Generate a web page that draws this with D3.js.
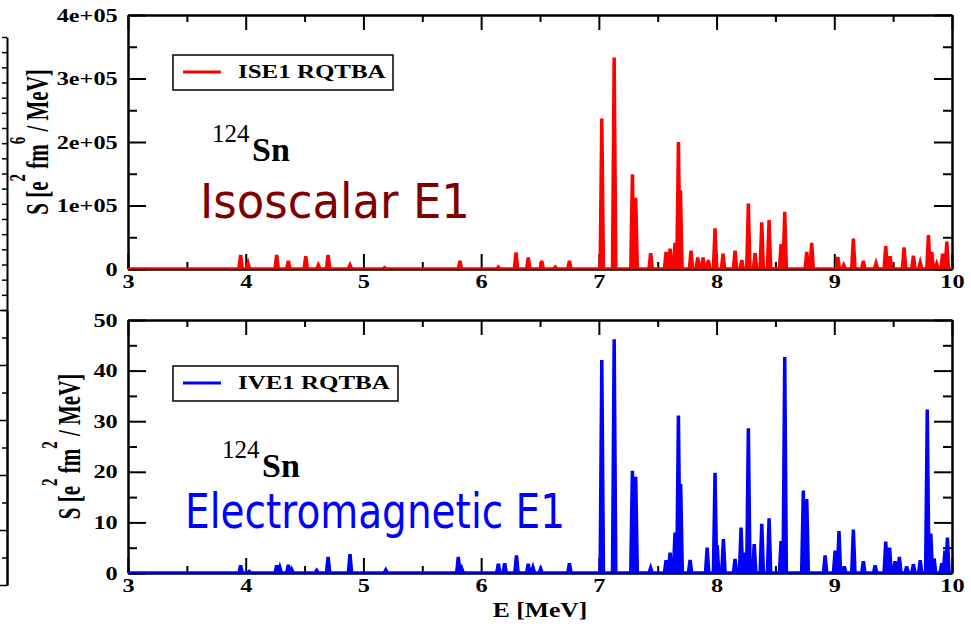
<!DOCTYPE html>
<html>
<head>
<meta charset="utf-8">
<script src="https://cdn.jsdelivr.net/npm/d3@7"></script>
<style>
body { margin: 0; background: #fff; }
svg { display: block; }
.tick text { font-family: "Liberation Serif", "Times New Roman", serif; font-weight: bold; font-size: 19px; fill: #000; }
</style>
</head>
<body>
<svg id="chart" width="971" height="627"></svg>
<script>
// peak positions (MeV) and strengths
const isoE = [3.957, 4.02, 4.263, 4.362, 4.51, 4.617, 4.70, 4.886, 5.18, 5.82, 6.146, 6.296, 6.40, 6.515, 6.63, 6.75,
  7.025, 7.13, 7.285, 7.313, 7.44, 7.571, 7.605, 7.647, 7.676, 7.693, 7.783, 7.84, 7.885, 7.93, 7.987, 8.055, 8.157,
  8.214, 8.27, 8.327, 8.384, 8.446, 8.548, 8.579, 8.766, 8.808, 9.03, 9.08, 9.162, 9.247, 9.355, 9.437, 9.474, 9.593,
  9.672, 9.73, 9.80, 9.828, 9.87, 9.92, 9.956];
const isoS = [22000, 9000, 22000, 13000, 20000, 6000, 22000, 6000, 2000, 13000, 3000, 26000, 18000, 13000, 3000, 13000,
  237000, 333000, 149000, 112000, 25000, 27000, 32000, 41000, 200000, 124000, 29000, 18000, 18000, 14000, 64000, 24000, 29000,
  14000, 103000, 25000, 73500, 77000, 39000, 90000, 27000, 41000, 19000, 6000, 48000, 13000, 9000, 36000, 20000, 34000,
  21000, 10000, 53500, 27000, 8000, 24000, 43000];

const emE = [3.957, 4.03, 4.263, 4.29, 4.362, 4.39, 4.603, 4.70, 4.886, 5.19, 5.806, 5.835, 6.146, 6.20, 6.30, 6.40, 6.44,
  6.506, 6.75, 7.025, 7.13, 7.285, 7.313, 7.44, 7.571, 7.605, 7.647, 7.676, 7.695, 7.775, 7.92, 7.987, 8.005, 8.058,
  8.157, 8.208, 8.242, 8.27, 8.32, 8.384, 8.446, 8.548, 8.579, 8.737, 8.766, 8.922, 9.007, 9.04, 9.085, 9.162, 9.247,
  9.347, 9.437, 9.47, 9.516, 9.553, 9.615, 9.672, 9.73, 9.79, 9.82, 9.848, 9.913, 9.94, 9.961];
const emS = [1.5, 0.3, 1.5, 1.1, 1.6, 0.7, 0.5, 3.2, 3.7, 0.6, 3.2, 0.9, 1.8, 1.9, 3.5, 1.8, 1.1,
  0.8, 1.9, 42.1, 46.2, 20.2, 19.0, 1.0, 2.5, 4.0, 8.0, 31.1, 17.6, 2.6, 5.0, 19.8, 5.5, 6.7,
  2.8, 9.0, 4.0, 28.6, 5.7, 9.7, 10.8, 6.3, 42.7, 16.3, 14.6, 3.5, 4.4, 8.3, 1.3, 8.6, 2.3,
  1.5, 6.2, 5.0, 2.3, 3.2, 1.3, 1.7, 2.5, 32.3, 7.8, 2.9, 1.9, 4.4, 7.0];

const xMajor = [3, 4, 5, 6, 7, 8, 9, 10];
const xMinor = [3.5, 4.5, 5.5, 6.5, 7.5, 8.5, 9.5];
const xTickLabels = ["3", "4", "5", "6", "7", "8", "9", "10"];
const isoYMajor = [0, 100000, 200000, 300000, 400000];
const isoYMinor = [50000, 150000, 250000, 350000];
const isoYLabels = ["0", "1e+05", "2e+05", "3e+05", "4e+05"];
const emYMajor = [0, 10, 20, 30, 40, 50];
const emYMinor = [5, 15, 25, 35, 45];
const emYLabels = ["0", "10", "20", "30", "40", "50"];

const svg = d3.select("#chart");
const serif = "'Liberation Serif', 'Times New Roman', serif";
const comic = "'Comic Sans MS', 'DejaVu Sans', sans-serif";
const stretch = 1.28;   // the picture is a bit wider than tall
const halfWidth = 0.014; // half width of a drawn peak, MeV

const x = d3.scaleLinear().domain([3, 10]).range([128, 952]);

function peakPoints(es, ss) {
    const pts = [[3, 0]];
    es.forEach((e, i) => {
        pts.push([e - halfWidth, 0], [e, ss[i]], [e + halfWidth, 0]);
    });
    pts.push([10, 0]);
    return pts;
}

function drawPanel(p) {
    const y = d3.scaleLinear().domain(p.yDomain).range([p.y1, p.y0]);
    const g = svg.append("g");

    g.append("clipPath").attr("id", p.id)
        .append("rect")
        .attr("x", x(3)).attr("y", p.y0)
        .attr("width", x(10) - x(3)).attr("height", p.y1 - p.y0);

    // ticks on all four sides, pointing in
    g.append("g").attr("transform", `translate(0,${p.y1})`)
        .call(d3.axisBottom(x).tickValues(xMinor).tickSize(-7).tickSizeOuter(0).tickFormat(""));
    g.append("g").attr("transform", `translate(0,${p.y1})`)
        .call(d3.axisBottom(x).tickValues(xMajor).tickSize(-15).tickSizeOuter(0).tickPadding(6)
            .tickFormat((d, i) => xTickLabels[i]));
    g.append("g").attr("transform", `translate(0,${p.y0})`)
        .call(d3.axisTop(x).tickValues(xMinor).tickSize(-7).tickSizeOuter(0).tickFormat(""));
    g.append("g").attr("transform", `translate(0,${p.y0})`)
        .call(d3.axisTop(x).tickValues(xMajor).tickSize(-15).tickSizeOuter(0).tickFormat(""));

    g.append("g").attr("transform", `translate(${x(3)},0)`)
        .call(d3.axisLeft(y).tickValues(p.yMinor).tickSize(-9).tickSizeOuter(0).tickFormat(""));
    g.append("g").attr("transform", `translate(${x(3)},0)`)
        .call(d3.axisLeft(y).tickValues(p.yMajor).tickSize(-18).tickSizeOuter(0).tickPadding(8)
            .tickFormat((d, i) => p.yLabels[i]));
    g.append("g").attr("transform", `translate(${x(10)},0)`)
        .call(d3.axisRight(y).tickValues(p.yMinor).tickSize(-9).tickSizeOuter(0).tickFormat(""));
    g.append("g").attr("transform", `translate(${x(10)},0)`)
        .call(d3.axisRight(y).tickValues(p.yMajor).tickSize(-18).tickSizeOuter(0).tickFormat(""));

    g.selectAll(".domain").attr("stroke", "#000").attr("stroke-width", 2);
    g.selectAll(".tick line").attr("stroke", "#000").attr("stroke-width", 2);
    g.selectAll(".tick text").attr("transform", `scale(${stretch},1)`);

    // the spectrum
    const line = d3.line().x(d => x(d[0])).y(d => y(d[1]));
    g.append("path")
        .datum(peakPoints(p.E, p.S))
        .attr("d", line)
        .attr("fill", "none")
        .attr("stroke", p.color)
        .attr("stroke-width", 3.5)
        .attr("clip-path", `url(#${p.id})`);

    // legend
    g.append("rect")
        .attr("x", 173).attr("y", p.legY).attr("width", p.legW).attr("height", 35)
        .attr("fill", "#fff").attr("stroke", "#000").attr("stroke-width", 1.5);
    g.append("line")
        .attr("x1", 183).attr("x2", 221).attr("y1", p.legY + 17).attr("y2", p.legY + 17)
        .attr("stroke", p.color).attr("stroke-width", 3);
    g.append("text")
        .attr("transform", `translate(238,${p.legY + 23}) scale(${stretch},1)`)
        .attr("font-family", serif).attr("font-weight", "bold").attr("font-size", 19.5)
        .text(p.legend);

    // nucleus
    g.append("text").attr("x", p.nucX).attr("y", p.nucY - 19)
        .attr("font-family", serif).attr("font-size", 25).text("124");
    g.append("text").attr("x", p.nucX + 40).attr("y", p.nucY)
        .attr("font-family", serif).attr("font-weight", "bold").attr("font-size", 34).text("Sn");

    // big caption
    g.append("text").attr("x", p.capX).attr("y", p.capY)
        .attr("font-family", comic).attr("font-size", 48)
        .attr("fill", p.capColor)
        .attr("textLength", p.capW).attr("lengthAdjust", "spacingAndGlyphs")
        .text(p.caption);

    // y axis title
    const t = svg.append("text")
        .attr("transform", `translate(${p.labX},${(p.y0 + p.y1) / 2}) scale(1.55,1) rotate(-90)`)
        .attr("text-anchor", "middle")
        .attr("font-family", serif).attr("font-weight", "bold").attr("font-size", 21);
    t.append("tspan").text("S [e");
    t.append("tspan").attr("dy", -15).attr("font-size", 15).text("2");
    t.append("tspan").attr("dy", 15).text(" fm");
    t.append("tspan").attr("dy", -15).attr("font-size", 15).text(p.power);
    t.append("tspan").attr("dy", 15).text(" / MeV]");
}

drawPanel({
    id: "clipIso", y0: 15, y1: 269, yDomain: [0, 400000],
    yMajor: isoYMajor, yMinor: isoYMinor, yLabels: isoYLabels,
    E: isoE, S: isoS, color: "#ff0000",
    legY: 55, legW: 220, legend: "ISE1 RQTBA",
    nucX: 212, nucY: 161,
    caption: "Isoscalar E1", capX: 200, capY: 218, capW: 270, capColor: "#800000",
    labX: 48, power: "6"
});

drawPanel({
    id: "clipEm", y0: 320, y1: 573, yDomain: [0, 50],
    yMajor: emYMajor, yMinor: emYMinor, yLabels: emYLabels,
    E: emE, S: emS, color: "#0000ff",
    legY: 366, legW: 225, legend: "IVE1 RQTBA",
    nucX: 222, nucY: 477,
    caption: "Electromagnetic E1", capX: 185, capY: 528, capW: 380, capColor: "#0000ff",
    labX: 80, power: "2"
});

// x axis title
svg.append("text")
    .attr("transform", `translate(540,617) scale(${stretch},1)`)
    .attr("text-anchor", "middle")
    .attr("font-family", serif).attr("font-weight", "bold").attr("font-size", 20)
    .text("E [MeV]");

// edge of a neighbouring plot cut off at the left border
const fragUpper = d3.scaleLinear().domain([0, 18]).range([310, 37]);
const fragLower = d3.scaleLinear().domain([0, 50]).range([585, 310]);
const frag = svg.append("g").attr("transform", "translate(7,0)");
frag.append("g").call(d3.axisLeft(fragUpper).ticks(18).tickSize(5).tickSizeOuter(0).tickFormat(""));
frag.append("g").call(d3.axisLeft(fragLower).tickValues([5, 15, 25, 35, 45]).tickSize(5).tickSizeOuter(0).tickFormat(""));
frag.append("g").call(d3.axisLeft(fragLower).tickValues([0, 10, 20, 30, 40, 50]).tickSize(8).tickSizeOuter(0).tickFormat(""));
frag.selectAll(".domain").attr("stroke", "#000").attr("stroke-width", 2);
frag.selectAll(".tick line").attr("stroke", "#000").attr("stroke-width", 1.5);
</script>
</body>
</html>
